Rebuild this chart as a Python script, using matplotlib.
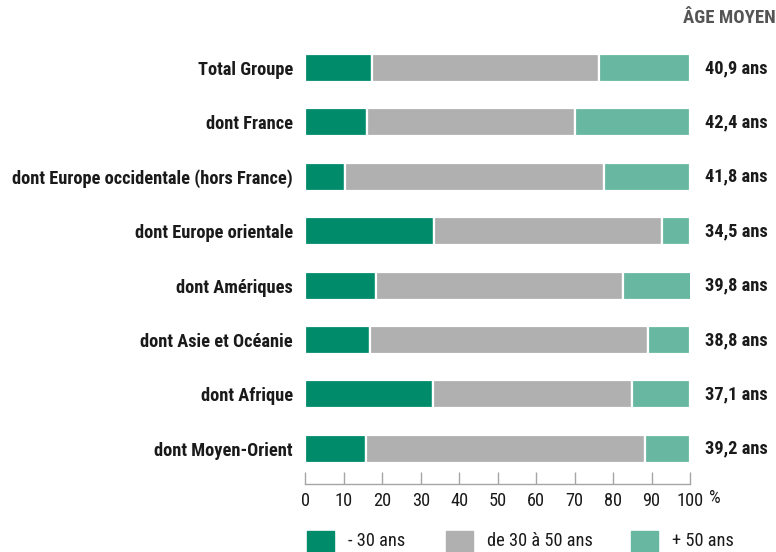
import matplotlib
matplotlib.use("Agg")
import matplotlib.pyplot as plt
import matplotlib.transforms as mtransforms
from matplotlib.patches import Rectangle

categories = [
    "Total Groupe",
    "dont France",
    "dont Europe occidentale (hors France)",
    "dont Europe orientale",
    "dont Amériques",
    "dont Asie et Océanie",
    "dont Afrique",
    "dont Moyen-Orient",
]
under_30 = [17.4, 16.0, 10.4, 33.5, 18.5, 16.9, 33.1, 15.8]
from_30_to_50 = [58.9, 54.2, 67.2, 59.1, 64.1, 72.3, 51.7, 72.4]
over_50 = [23.7, 29.8, 22.4, 7.4, 18.0, 10.8, 15.2, 11.8]
average_age = ["40,9 ans", "42,4 ans", "41,8 ans", "34,5 ans",
               "39,8 ans", "38,8 ans", "37,1 ans", "39,2 ans"]
series_labels = ["- 30 ans", "de 30 à 50 ans", "+ 50 ans"]
x_ticks = [0, 10, 20, 30, 40, 50, 60, 70, 80, 90, 100]

colors = ["#008C6B", "#B0B0B0", "#67B7A1"]
FONT = ["Roboto Condensed", "Archivo Narrow", "Barlow Condensed", "DejaVu Sans"]
TEXT = "#1a1a1a"
FS = 13.2

plt.rcParams["font.family"] = FONT

W, H = 776, 552
fig = plt.figure(figsize=(W / 100, H / 100), dpi=100)

# axes spanning x 305..690 px, y 40..484 px
left_px, right_px, top_px, bottom_px = 305.3, 690.0, 40.0, 484.0
ax = fig.add_axes([left_px / W, 1 - bottom_px / H,
                   (right_px - left_px) / W, (bottom_px - top_px) / H])

ypos = list(range(len(categories)))
bar_h = 0.515
lefts = [0.0] * len(categories)
for vals, col in zip([under_30, from_30_to_50, over_50], colors):
    ax.barh(ypos, vals, left=lefts, height=bar_h, color=col,
            edgecolor="white", linewidth=1.6)
    lefts = [l + v for l, v in zip(lefts, vals)]

ax.set_xlim(0, 100)
ax.set_ylim(7.647, -0.515)

for s in ["top", "right", "left"]:
    ax.spines[s].set_visible(False)
ax.spines["bottom"].set_color("#a5a5a5")
ax.spines["bottom"].set_linewidth(1.0)

ax.set_xticks(x_ticks)
ax.set_xticklabels([str(t) for t in x_ticks])
ax.tick_params(axis="x", direction="in", length=9, width=1.0, color="#a5a5a5",
               labelsize=FS, labelcolor=TEXT, pad=6)
ax.set_yticks(ypos)
ax.set_yticklabels(categories, fontsize=FS, fontweight="bold", color=TEXT)
ax.tick_params(axis="y", length=0, pad=9)
fig.text(709 / W, 1 - 498 / H, "%", ha="left", va="center",
         fontsize=FS, color=TEXT)

# average age column
blend = mtransforms.blended_transform_factory(fig.transFigure, ax.transData)
for y, lab in zip(ypos, average_age):
    ax.text(705 / W, y, lab, transform=blend, ha="left", va="center",
            fontsize=FS, fontweight="bold", color=TEXT)
fig.text(776 / W, 1 - 18 / H, "ÂGE MOYEN", ha="right", va="center",
         fontsize=13.5, fontweight="bold", color="#555555")

# legend
leg_y = 1 - 541.5 / H
sq_w, sq_h = 27 / W, 22 / H
for x0, tx, col, lab in zip([307, 446, 631], [348, 487, 672], colors, series_labels):
    fig.patches.append(Rectangle((x0 / W, 1 - 553 / H), sq_w, sq_h,
                                 transform=fig.transFigure, color=col))
    fig.text(tx / W, leg_y, lab, ha="left", va="center", fontsize=FS, color=TEXT)

fig.savefig("out.png", dpi=100)
